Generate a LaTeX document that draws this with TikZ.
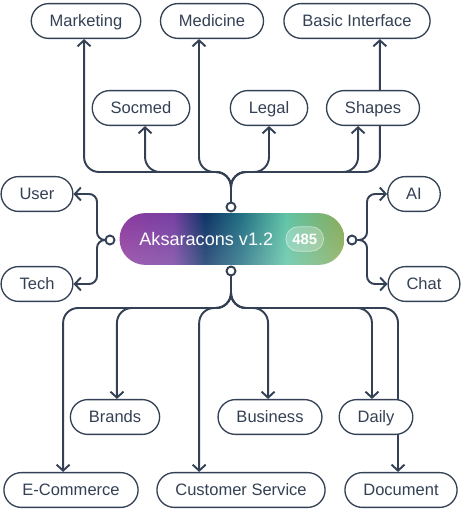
\documentclass[tikz,border=0pt]{standalone}
\usepackage{fontspec}
\setmainfont{Liberation Sans}
\usepackage{tikz}
\usetikzlibrary{arrows.meta}
\usetikzlibrary{positioning}
\usetikzlibrary{backgrounds}
\usetikzlibrary{fadings}
\definecolor{InkColor}{RGB}{52,64,84}
\definecolor{AuroraA}{RGB}{141,58,158}
\definecolor{AuroraB}{RGB}{118,64,162}
\definecolor{AuroraC}{RGB}{14,52,102}
\definecolor{AuroraD}{RGB}{35,112,132}
\definecolor{AuroraE}{RGB}{96,196,166}
\definecolor{AuroraF}{RGB}{136,170,86}
\pgfdeclarehorizontalshading{aurora}{100bp}{color(0bp)=(AuroraA); color(25bp)=(AuroraA); color(37bp)=(AuroraB); color(44bp)=(AuroraC); color(52bp)=(AuroraD); color(62bp)=(AuroraE); color(75bp)=(AuroraF); color(100bp)=(AuroraF)}
\tikzstyle{leaf} = [draw=InkColor, line width=0.75pt, fill=white, rounded corners=9.9pt, minimum height=19.8pt, inner xsep=10.5pt, inner ysep=0pt, text height=6.7pt, text depth=0pt, text=InkColor, font=\fontsize{9.4pt}{11pt}\selectfont]
\tikzstyle{link} = [InkColor, line width=1.1pt, rounded corners=8.5pt, -{Straight Barb[length=3.4pt,width=7.4pt]}]
\tikzstyle{port} = [circle, draw=InkColor, line width=1.1pt, fill=white, inner sep=0pt, minimum size=5.1pt]
\tikzstyle{core} = [shading=aurora, rounded corners=14.7pt, minimum width=128pt, minimum height=29.5pt, inner sep=0pt]
\tikzstyle{badge} = [draw=white, draw opacity=0.5, fill=white, fill opacity=0.25, text opacity=1, text=white, rounded corners=7pt, minimum width=21.5pt, minimum height=14pt, inner sep=0pt, text height=6.1pt, text depth=0pt, font=\fontsize{8.5pt}{10pt}\selectfont\bfseries]

\begin{document}
\begin{tikzpicture}[x=0.2mm, y=-0.2mm]
    \useasboundingbox (0,0) rectangle (461,512);

    % top row and second row
    \node[leaf] (mkt) at (86,21) {Marketing};
    \node[leaf] (med) at (212,21) {Medicine};
    \node[leaf] (basic) at (357,21) {Basic Interface};
    \node[leaf] (soc) at (141,108) {Socmed};
    \node[leaf] (legal) at (269,108) {Legal};
    \node[leaf] (shp) at (373,108) {Shapes};

    % sides
    \node[leaf] (user) at (37,194) {User};
    \node[leaf] (tech) at (37,284) {Tech};
    \node[leaf] (ai) at (414,194) {AI};
    \node[leaf] (chat) at (424,284) {Chat};

    % bottom rows
    \node[leaf] (brand) at (115,417) {Brands};
    \node[leaf] (biz) at (270,417) {Business};
    \node[leaf] (daily) at (376,417) {Daily};
    \node[leaf] (ecom) at (71,490) {E-Commerce};
    \node[leaf] (cs) at (241,490) {Customer Service};
    \node[leaf] (doc) at (401,490) {Document};

    % central topic
    \node[core] (core) at (232,239) {};
    \fill[white, fill opacity=0.18, path fading=north, rounded corners=14.7pt] (core.south west) rectangle (core.north east);
    \node[anchor=west, inner sep=0pt, text height=7.4pt, text depth=0pt, text=white, font=\fontsize{10.3pt}{12pt}\selectfont] (title) at ([xshift=11.3pt]core.west) {Aksaracons v1.2};
    \node[badge, right=6.8pt of title] (cnt) {485};

    \node[port] (ptop) at (231,207) {};
    \node[port] (pbot) at (231,271) {};
    \node[port] (pleft) at (110,240) {};
    \node[port] (pright) at (352,240) {};

    \coordinate (hubtop) at (231,172);
    \coordinate (hubbot) at (231,308);
    \coordinate (hubleft) at (97,240);
    \coordinate (hubright) at (367,240);

    \begin{scope}[on background layer]
        \foreach \target/\dx in {mkt/-1.1pt, soc/2.3pt, med/-7.4pt, legal/0pt, shp/-8.5pt, basic/13pt}
            \draw[link] (ptop) -- (hubtop) -| ([xshift=\dx]\target.south);
        \foreach \target/\dx in {ecom/-4.5pt, brand/1.1pt, cs/-23.8pt, biz/-1.1pt, daily/-2.3pt, doc/-1.7pt}
            \draw[link] (pbot) -- (hubbot) -| ([xshift=\dx]\target.north);
        \foreach \target in {user, tech}
            \draw[link, rounded corners=4.5pt] (pleft) -- (hubleft) |- (\target.east);
        \foreach \target in {ai, chat}
            \draw[link, rounded corners=4.5pt] (pright) -- (hubright) |- (\target.west);
    \end{scope}
\end{tikzpicture}
\end{document}
